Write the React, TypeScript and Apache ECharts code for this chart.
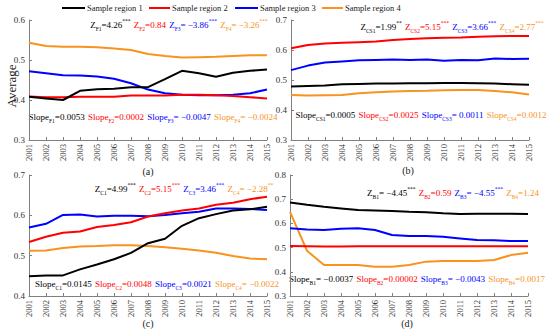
import React, { useEffect, useRef } from 'react';
import * as echarts from 'echarts';

const years = ['2001', '2002', '2003', '2004', '2005', '2006', '2007', '2008', '2009', '2010', '2011', '2012', '2013', '2014', '2015'];
const seriesNames = ['Sample region 1', 'Sample region 2', 'Sample region 3', 'Sample region 4'];
const colors = ['#000000', '#ff0000', '#0000ff', '#f7931e'];

// Panel (a)
const aR1 = [0.408, 0.404, 0.400, 0.423, 0.427, 0.428, 0.432, 0.432, 0.452, 0.473, 0.467, 0.458, 0.468, 0.473, 0.476];
const aR2 = [0.409, 0.407, 0.407, 0.408, 0.408, 0.408, 0.411, 0.411, 0.411, 0.413, 0.413, 0.412, 0.410, 0.407, 0.404];
const aR3 = [0.472, 0.467, 0.462, 0.461, 0.459, 0.453, 0.442, 0.426, 0.417, 0.413, 0.412, 0.412, 0.413, 0.417, 0.426];
const aR4 = [0.543, 0.535, 0.533, 0.533, 0.532, 0.529, 0.525, 0.515, 0.510, 0.506, 0.507, 0.508, 0.510, 0.512, 0.512];
// Panel (b)
const bR1 = [0.478, 0.480, 0.482, 0.486, 0.487, 0.488, 0.488, 0.489, 0.489, 0.490, 0.490, 0.489, 0.488, 0.486, 0.484];
const bR2 = [0.606, 0.617, 0.622, 0.624, 0.626, 0.628, 0.633, 0.637, 0.639, 0.641, 0.642, 0.644, 0.646, 0.647, 0.647];
const bR3 = [0.533, 0.548, 0.558, 0.562, 0.566, 0.567, 0.568, 0.567, 0.568, 0.564, 0.567, 0.566, 0.572, 0.570, 0.571];
const bR4 = [0.450, 0.448, 0.449, 0.450, 0.456, 0.459, 0.462, 0.463, 0.464, 0.466, 0.467, 0.467, 0.463, 0.459, 0.452];
// Panel (c)
const cR1 = [0.449, 0.451, 0.451, 0.466, 0.478, 0.491, 0.507, 0.531, 0.542, 0.574, 0.593, 0.603, 0.612, 0.615, 0.621];
const cR2 = [0.534, 0.547, 0.557, 0.560, 0.571, 0.576, 0.583, 0.597, 0.605, 0.612, 0.617, 0.626, 0.631, 0.640, 0.646];
const cR3 = [0.570, 0.579, 0.601, 0.602, 0.597, 0.599, 0.599, 0.598, 0.601, 0.605, 0.609, 0.617, 0.617, 0.616, 0.613];
const cR4 = [0.512, 0.513, 0.519, 0.523, 0.524, 0.526, 0.526, 0.524, 0.521, 0.517, 0.513, 0.507, 0.499, 0.493, 0.491];
// Panel (d)
const dR1 = [0.686, 0.677, 0.669, 0.662, 0.655, 0.653, 0.651, 0.648, 0.646, 0.642, 0.639, 0.640, 0.640, 0.640, 0.639];
const dR2 = [0.507, 0.506, 0.505, 0.505, 0.506, 0.506, 0.506, 0.506, 0.506, 0.506, 0.506, 0.506, 0.506, 0.506, 0.506];
const dR3 = [0.580, 0.575, 0.573, 0.578, 0.580, 0.573, 0.552, 0.548, 0.548, 0.545, 0.538, 0.531, 0.530, 0.527, 0.527];
const dR4 = [0.648, 0.487, 0.428, 0.428, 0.428, 0.421, 0.421, 0.428, 0.442, 0.445, 0.445, 0.445, 0.449, 0.469, 0.479];

const panelData = [
  [aR1, aR2, aR3, aR4],
  [bR1, bR2, bR3, bR4],
  [cR1, cR2, cR3, cR4],
  [dR1, dR2, dR3, dR4],
];
const yMin = [0.3, 0.3, 0.4, 0.3];
const yMax = [0.6, 0.7, 0.7, 0.8];
const captions = ['(a)', '(b)', '(c)', '(d)'];

// Annotation texts: [main, subscript, value, superscript]
const zTexts = [
  [['Z', 'F1', '=4.26', '***'], ['Z', 'F2', '=0.84', ''], ['Z', 'F3', '= \u22123.86', '***'], ['Z', 'F4', '= \u22123.26', '***']],
  [['Z', 'CS1', '=1.99', '**'], ['Z', 'CS2', '=5.15', '***'], ['Z', 'CS3', '=3.66', '***'], ['Z', 'CS4', '=2.77', '***']],
  [['Z', 'C1', '=4.99', '***'], ['Z', 'C2', '=5.15', '***'], ['Z', 'C3', '=3.46', '***'], ['Z', 'C4', '= \u22122.28', '**']],
  [['Z', 'B1', '= \u22124.45', '***'], ['Z', 'B2', '=0.59', ''], ['Z', 'B3', '= \u22124.55', '***'], ['Z', 'B4', '=1.24', '']],
];
const slopeTexts = [
  [['Slope', 'F1', '=0.0053', ''], ['Slope', 'F2', '=0.0002', ''], ['Slope', 'F3', '= \u22120.0047', ''], ['Slope', 'F4', '= \u22120.0024', '']],
  [['Slope', 'CS1', '=0.0005', ''], ['Slope', 'CS2', '=0.0025', ''], ['Slope', 'CS3', '= 0.0011', ''], ['Slope', 'CS4', '=0.0012', '']],
  [['Slope', 'C1', '=0.0145', ''], ['Slope', 'C2', '=0.0048', ''], ['Slope', 'C3', '=0.0021', ''], ['Slope', 'C4', '= \u22120.0022', '']],
  [['Slope', 'B1', '= \u22120.0037', ''], ['Slope', 'B2', '=0.00002', ''], ['Slope', 'B3', '= \u22120.0043', ''], ['Slope', 'B4', '=0.0017', '']],
];

const FONT = "Liberation Serif";

const grids = [
  { left: 29, top: 20, width: 238, height: 120 },
  { left: 291, top: 20, width: 238, height: 120 },
  { left: 29, top: 175, width: 238, height: 121 },
  { left: 290, top: 175, width: 238, height: 121 },
];
// centre points of annotation lines
const zPos = [[179, 25], [452, 27], [184, 189], [453, 193]];
const slopePos = [[153, 117], [421, 115], [157, 284], [417, 279]];
const capPos = [[148, 171], [408, 170], [148, 323], [407, 323]];
// legend layout: [lineStart, lineEnd, textStart]
const legendPos = [[62, 85, 87], [149, 170, 172], [235, 258, 260], [322, 343, 345]];

function richString(items: string[][]) {
  return items
    .map((it, i) => {
      let s = `{m${i}|${it[0]}}{s${i}|${it[1]}}{m${i}|${it[2]}}`;
      if (it[3]) s += `{p${i}|${it[3]}}`;
      return s;
    })
    .join('{g| }');
}

function richStyles() {
  const r: any = { g: { fontSize: 13, fontFamily: FONT, lineHeight: 14, verticalAlign: 'middle', fill: '#000' } };
  colors.forEach((c, i) => {
    r['m' + i] = { fill: c, fontSize: 9, fontFamily: FONT, lineHeight: 14, verticalAlign: 'middle' };
    r['s' + i] = { fill: c, fontSize: 5.5, fontFamily: FONT, lineHeight: 7, verticalAlign: 'bottom' };
    r['p' + i] = { fill: c, fontSize: 5.5, fontFamily: FONT, lineHeight: 8, verticalAlign: 'top' };
  });
  return r;
}

export default function App() {
  const ref = useRef<HTMLDivElement>(null);
  useEffect(() => {
    if (!ref.current) return;
    const chart = echarts.init(ref.current, undefined, { renderer: 'svg' });
    const xAxis: any[] = [];
    const yAxis: any[] = [];
    const series: any[] = [];
    const graphic: any[] = [];
    for (let p = 0; p < 4; p++) {
      xAxis.push({
        type: 'category',
        gridIndex: p,
        data: years,
        boundaryGap: false,
        axisLine: { lineStyle: { color: '#808080', width: 1 } },
        axisTick: { inside: true, length: 3, lineStyle: { color: '#808080' }, alignWithLabel: true },
        axisLabel: { rotate: 90, fontSize: 8.5, color: '#333', fontFamily: FONT, margin: 4, interval: 0 },
        splitLine: { show: false },
      });
      yAxis.push({
        type: 'value',
        gridIndex: p,
        min: yMin[p],
        max: yMax[p],
        interval: 0.1,
        axisLine: { show: true, lineStyle: { color: '#808080', width: 1 } },
        axisTick: { show: true, inside: true, length: 3, lineStyle: { color: '#808080' } },
        axisLabel: { fontSize: 9, color: '#333', fontFamily: FONT, margin: 4, formatter: (v: number) => v.toFixed(1) },
        splitLine: { show: false },
      });
      panelData[p].forEach((arr, k) => {
        series.push({
          type: 'line',
          name: seriesNames[k],
          xAxisIndex: p,
          yAxisIndex: p,
          data: arr,
          symbol: 'none',
          showSymbol: false,
          lineStyle: { color: colors[k], width: 2 },
          itemStyle: { color: colors[k] },
          z: k === 0 ? 5 : 4 - k,
        });
      });
      graphic.push({
        type: 'text',
        x: zPos[p][0],
        y: zPos[p][1],
        style: { text: richString(zTexts[p]), rich: richStyles(), verticalAlign: 'middle', align: 'center', font: `9px ${FONT}` },
      });
      graphic.push({
        type: 'text',
        x: slopePos[p][0],
        y: slopePos[p][1],
        style: { text: richString(slopeTexts[p]), rich: richStyles(), verticalAlign: 'middle', align: 'center', font: `9px ${FONT}` },
      });
      graphic.push({
        type: 'text',
        x: capPos[p][0],
        y: capPos[p][1],
        style: { text: captions[p], fill: '#222', font: `10px ${FONT}`, align: 'center', verticalAlign: 'middle' },
      });
    }
    // legend drawn as graphic elements
    seriesNames.forEach((name, k) => {
      const [x1, x2, tx] = legendPos[k];
      graphic.push({
        type: 'line',
        shape: { x1, y1: 8, x2, y2: 8 },
        style: { stroke: colors[k], lineWidth: 2 },
      });
      graphic.push({
        type: 'text',
        x: tx,
        y: 8,
        style: { text: name, fill: '#222', font: `8.5px ${FONT}`, align: 'left', verticalAlign: 'middle' },
      });
    });
    graphic.push({
      type: 'text',
      x: 11,
      y: 86,
      rotation: Math.PI / 2,
      style: { text: 'Average', fill: '#222', font: `13px ${FONT}`, align: 'center', verticalAlign: 'middle' },
    });
    chart.setOption({
      animation: false,
      backgroundColor: '#ffffff',
      textStyle: { fontFamily: FONT },
      grid: grids,
      xAxis,
      yAxis,
      series,
      graphic,
    });
    return () => chart.dispose();
  }, []);
  return <div ref={ref} style={{ position: 'fixed', left: 0, top: 0, width: 550, height: 333, background: '#fff' }} />;
}
